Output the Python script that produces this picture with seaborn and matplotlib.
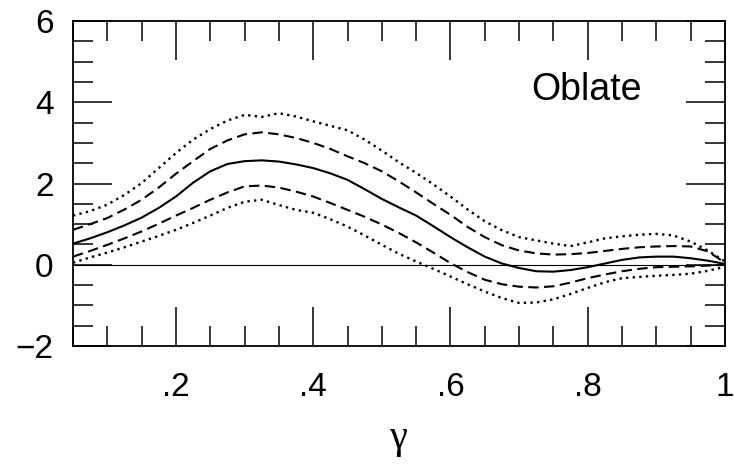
import matplotlib
matplotlib.use("Agg")
import matplotlib.pyplot as plt
import seaborn as sns
import pandas as pd
from matplotlib.ticker import MultipleLocator, FixedLocator, FixedFormatter

# ---- data ----
gamma = [0.05, 0.075, 0.1, 0.125, 0.15, 0.175, 0.2, 0.225, 0.25, 0.275,
         0.3, 0.325, 0.35, 0.375, 0.4, 0.425, 0.45, 0.475, 0.5, 0.525,
         0.55, 0.575, 0.6, 0.625, 0.65, 0.675, 0.7, 0.725, 0.75, 0.775,
         0.8, 0.825, 0.85, 0.875, 0.9, 0.925, 0.95, 0.975, 1.0]

mean = [0.52, 0.65, 0.80, 0.97, 1.16, 1.40, 1.68, 2.02, 2.30, 2.48,
        2.55, 2.57, 2.54, 2.47, 2.38, 2.25, 2.09, 1.86, 1.62, 1.41,
        1.21, 0.95, 0.68, 0.43, 0.20, 0.03, -0.08, -0.16, -0.17, -0.13,
        -0.06, 0.03, 0.12, 0.18, 0.20, 0.20, 0.16, 0.10, 0.02]

upper_1sig = [0.86, 1.00, 1.15, 1.36, 1.60, 1.90, 2.24, 2.55, 2.85, 3.06,
              3.21, 3.26, 3.21, 3.12, 3.00, 2.85, 2.67, 2.50, 2.30, 2.05,
              1.78, 1.50, 1.23, 0.93, 0.68, 0.48, 0.35, 0.28, 0.25, 0.26,
              0.29, 0.34, 0.39, 0.43, 0.45, 0.46, 0.45, 0.33, 0.05]

lower_1sig = [0.20, 0.34, 0.49, 0.65, 0.82, 1.01, 1.21, 1.40, 1.60, 1.78,
              1.93, 1.95, 1.90, 1.80, 1.68, 1.52, 1.35, 1.18, 0.99, 0.78,
              0.55, 0.30, 0.04, -0.18, -0.37, -0.48, -0.54, -0.56, -0.53, -0.44,
              -0.33, -0.24, -0.16, -0.10, -0.06, -0.05, -0.04, -0.02, 0.0]

upper_2sig = [1.21, 1.32, 1.48, 1.72, 2.01, 2.38, 2.75, 3.08, 3.34, 3.55,
              3.69, 3.64, 3.73, 3.65, 3.53, 3.42, 3.31, 3.08, 2.81, 2.52,
              2.26, 1.98, 1.68, 1.36, 1.07, 0.85, 0.68, 0.60, 0.52, 0.46,
              0.55, 0.65, 0.70, 0.74, 0.76, 0.72, 0.57, 0.35, 0.08]

lower_2sig = [0.05, 0.18, 0.30, 0.43, 0.57, 0.71, 0.86, 1.03, 1.21, 1.40,
              1.55, 1.60, 1.47, 1.35, 1.28, 1.12, 0.94, 0.72, 0.49, 0.27,
              0.08, -0.10, -0.29, -0.48, -0.66, -0.82, -0.94, -0.93, -0.85, -0.72,
              -0.57, -0.43, -0.33, -0.30, -0.27, -0.25, -0.22, -0.15, -0.05]

x_major = [0.2, 0.4, 0.6, 0.8, 1.0]
x_labels = [".2", ".4", ".6", ".8", "1"]
y_major = [-2, 0, 2, 4, 6]
y_labels = ["\u22122", "0", "2", "4", "6"]
panel_label = "Oblate"
x_title = "\u03b3"

df = pd.DataFrame({"gamma": gamma, "mean": mean,
                   "up1": upper_1sig, "lo1": lower_1sig,
                   "up2": upper_2sig, "lo2": lower_2sig})

sns.set_style("white")
plt.rcParams["font.family"] = ["Liberation Sans", "DejaVu Sans"]
plt.rcParams["text.color"] = "black"
plt.rcParams["xtick.color"] = "black"
plt.rcParams["ytick.color"] = "black"
plt.rcParams["axes.labelcolor"] = "black"

fig = plt.figure(figsize=(7.34, 4.65), dpi=100)
ax = fig.add_axes([73 / 734, 1 - 346 / 465, (725 - 73) / 734, (346 - 21) / 465])

ax.axhline(0, color="black", lw=0.8, zorder=1)

sns.lineplot(data=df, x="gamma", y="mean", ax=ax, color="black", lw=1.5,
             estimator=None, sort=False)
for col in ["up1", "lo1"]:
    sns.lineplot(data=df, x="gamma", y=col, ax=ax, color="black", lw=1.5,
                 linestyle=(0, (5, 2.6)), estimator=None, sort=False)
for col in ["up2", "lo2"]:
    sns.lineplot(data=df, x="gamma", y=col, ax=ax, color="black", lw=1.7,
                 linestyle=(0, (1, 1.8)), estimator=None, sort=False)

ax.set_xlim(0.05, 1.0)
ax.set_ylim(-2, 6)

ax.xaxis.set_major_locator(FixedLocator(x_major))
ax.xaxis.set_major_formatter(FixedFormatter(x_labels))
ax.xaxis.set_minor_locator(MultipleLocator(0.05))
ax.yaxis.set_major_locator(FixedLocator(y_major))
ax.yaxis.set_major_formatter(FixedFormatter(y_labels))
ax.yaxis.set_minor_locator(MultipleLocator(0.5))

ax.tick_params(which="both", direction="in", top=True, right=True,
               bottom=True, left=True, color="black", width=1.1,
               labelcolor="black")
ax.tick_params(which="major", length=28)
ax.tick_params(which="minor", length=14.5)
ax.tick_params(axis="x", which="major", labelsize=24, pad=19)
ax.tick_params(axis="y", which="major", labelsize=24, pad=14)

for s in ax.spines.values():
    s.set_color("black")
    s.set_linewidth(1.3)

ax.set_ylabel("")
ax.set_xlabel(x_title, fontsize=29, family=["Liberation Serif", "DejaVu Serif"],
              labelpad=12, color="black")

ax.text(0.787, 0.757, panel_label, transform=ax.transAxes, fontsize=27,
        ha="center", va="baseline", color="black")

fig.savefig("out.png", dpi=100)
